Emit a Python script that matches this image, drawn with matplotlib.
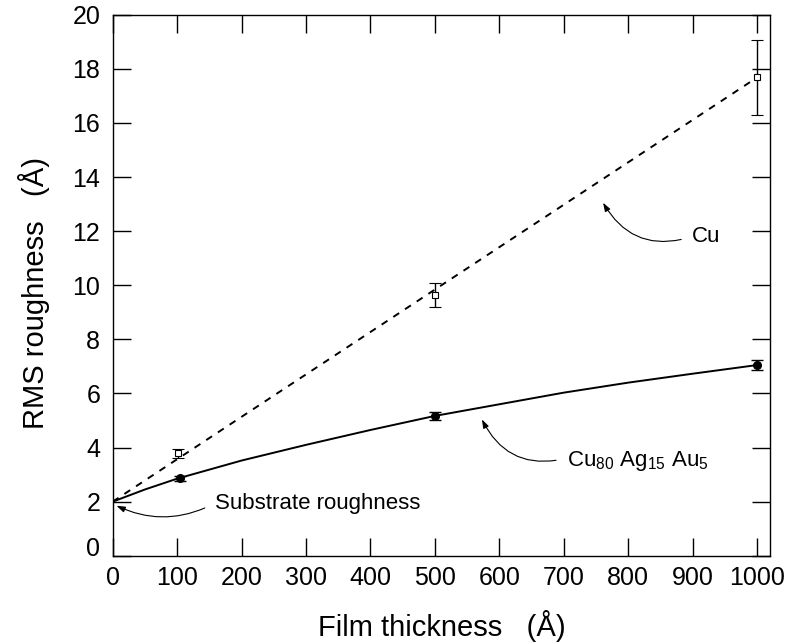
import matplotlib
matplotlib.use("Agg")
import matplotlib.pyplot as plt

plt.rcParams['font.family'] = ['Liberation Sans', 'DejaVu Sans']
plt.rcParams['mathtext.fontset'] = 'custom'
plt.rcParams['mathtext.rm'] = 'Liberation Sans'
plt.rcParams['mathtext.it'] = 'Liberation Sans:italic'

# measured points (thickness in A, roughness in A)
cu_x = [102, 500, 1000]
cu_y = [3.79, 9.65, 17.68]
cu_err = [0.16, 0.45, 1.40]

alloy_x = [105, 500, 1000]
alloy_y = [2.87, 5.17, 7.06]
alloy_err = [0.09, 0.15, 0.18]

# fit curves
cu_fit_x = [0, 1000]
cu_fit_y = [2.0, 17.68]
alloy_fit_x = [0, 50, 100, 200, 300, 400, 500, 600, 700, 800, 900, 1000]
alloy_fit_y = [2.0, 2.45, 2.85, 3.52, 4.10, 4.65, 5.17, 5.60, 6.03, 6.40, 6.73, 7.05]

x_ticks = list(range(0, 1001, 100))
y_ticks = list(range(0, 21, 2))

fig = plt.figure(figsize=(7.89, 6.42), dpi=100)
ax = fig.add_axes([0.1428, 0.1343, 0.8331, 0.8428])

ax.plot(cu_fit_x, cu_fit_y, color='black', lw=1.4, dashes=(3.6, 3.6))
ax.plot(alloy_fit_x, alloy_fit_y, color='black', lw=1.4)

ax.errorbar(cu_x, cu_y, yerr=cu_err, fmt='s', ms=5, mfc='white', mec='black',
            mew=0.8, ecolor='black', elinewidth=1.0, capsize=4.6, capthick=1.0)
ax.errorbar(alloy_x, alloy_y, yerr=alloy_err, fmt='o', ms=5.5, mfc='black', mec='black',
            ecolor='black', elinewidth=1.0, capsize=4.6, capthick=1.0)

arrow = dict(arrowstyle='-|>,head_length=0.32,head_width=0.11', color='black', lw=0.8,
             relpos=(0, 0.5), shrinkA=6, shrinkB=0)

ax.annotate('Substrate roughness', xy=(6, 1.85), xytext=(159, 1.95), fontsize=16,
            ha='left', va='center',
            arrowprops=dict(arrow, connectionstyle='arc3,rad=-0.25'))
ax.annotate('Cu', xy=(761, 13.05), xytext=(899, 11.8), fontsize=16,
            ha='left', va='center',
            arrowprops=dict(arrow, connectionstyle='arc3,rad=-0.4'))
ax.annotate(r'Cu$_{80}$ Ag$_{15}$ Au$_{5}$', xy=(573, 5.04), xytext=(705, 3.32), fontsize=16,
            ha='left', va='baseline',
            arrowprops=dict(arrow, relpos=(0, 0.62), connectionstyle='arc3,rad=-0.4'))

ax.set_xlim(0, 1020)
ax.set_ylim(0, 20)
ax.set_xticks(x_ticks)
ax.set_yticks(y_ticks)
ax.tick_params(direction='in', length=13, width=1.0, top=True, right=True, labelsize=18)
ax.tick_params(axis='y', pad=9)
ax.tick_params(axis='x', pad=7)
ax.get_yticklabels()[0].set_va('baseline')

for s in ax.spines.values():
    s.set_linewidth(1.0)

ax.set_xlabel('Film thickness   (Å)', fontsize=21)
ax.set_ylabel('RMS roughness   (Å)', fontsize=21)
ax.xaxis.set_label_coords(0.5, -0.100)
ax.yaxis.set_label_coords(-0.096, 0.485)

fig.savefig('out.png', dpi=100)
